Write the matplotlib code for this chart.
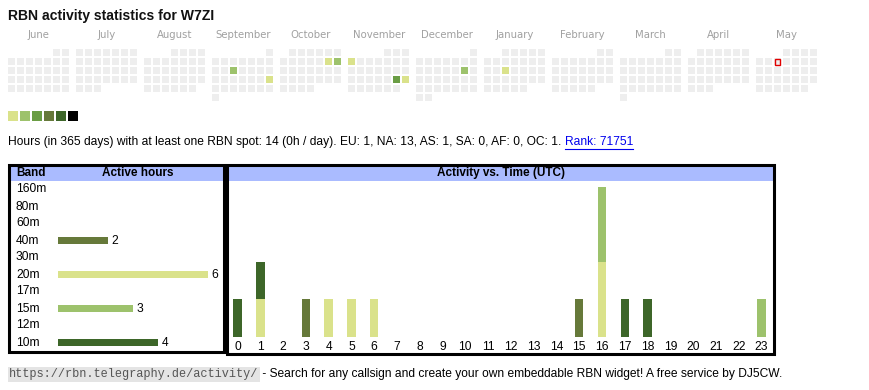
import datetime as dt
import matplotlib
matplotlib.use("Agg")
import matplotlib.pyplot as plt
from matplotlib.patches import Rectangle
from matplotlib.lines import Line2D

# ---------------- data ----------------
title = "RBN activity statistics for W7ZI"
months = ["June", "July", "August", "September", "October", "November",
          "December", "January", "February", "March", "April", "May"]
month_years = [2024, 2024, 2024, 2024, 2024, 2024, 2024, 2025, 2025, 2025, 2025, 2025]
month_nums = [6, 7, 8, 9, 10, 11, 12, 1, 2, 3, 4, 5]
active_days = ["2024-09-11", "2024-09-22", "2024-10-12", "2024-10-13", "2024-11-04",
               "2024-11-23", "2024-11-24", "2024-12-14", "2025-01-15"]
active_day_hours = [2, 1, 1, 2, 1, 3, 1, 2, 1]
today = "2025-05-07"
level_colors = ["#dae28b", "#9dc26c", "#6a9d44", "#66793a", "#3d6629", "#000000"]

summary = ("Hours (in 365 days) with at least one RBN spot: 14 (0h / day). "
           "EU: 1, NA: 13, AS: 1, SA: 0, AF: 0, OC: 1. ")
rank_text = "Rank: 71751"

bands = ["160m", "80m", "60m", "40m", "30m", "20m", "17m", "15m", "12m", "10m"]
band_hours = [0, 0, 0, 2, 0, 6, 0, 3, 0, 4]
band_colors = {"40m": "#66793a", "20m": "#dae28b", "15m": "#9dc26c", "10m": "#3d6629"}

hours = list(range(24))
hourly_40m = [0, 0, 0, 1, 0, 0, 0, 0, 0, 0, 0, 0, 0, 0, 0, 1, 0, 0, 0, 0, 0, 0, 0, 0]
hourly_20m = [0, 1, 0, 0, 1, 1, 1, 0, 0, 0, 0, 0, 0, 0, 0, 0, 2, 0, 0, 0, 0, 0, 0, 0]
hourly_15m = [0, 0, 0, 0, 0, 0, 0, 0, 0, 0, 0, 0, 0, 0, 0, 0, 2, 0, 0, 0, 0, 0, 0, 1]
hourly_10m = [1, 1, 0, 0, 0, 0, 0, 0, 0, 0, 0, 0, 0, 0, 0, 0, 0, 1, 1, 0, 0, 0, 0, 0]
hourly_series = [("40m", hourly_40m), ("20m", hourly_20m), ("15m", hourly_15m), ("10m", hourly_10m)]

footer_url = "https://rbn.telegraphy.de/activity/"
footer_text = " - Search for any callsign and create your own embeddable RBN widget! A free service by DJ5CW."

# ---------------- layout ----------------
W, H = 870, 390
fig = plt.figure(figsize=(W / 100, H / 100), dpi=100)
SANS = ["Liberation Sans", "DejaVu Sans"]
FS = 8.62

bg = fig.add_axes([0, 0, 1, 1])
bg.set_xlim(0, W)
bg.set_ylim(H, 0)
bg.axis("off")


def fa(x0, y0, x1, y1):
    """figure-fraction rect from pixel box"""
    return [x0 / W, 1 - y1 / H, (x1 - x0) / W, (y1 - y0) / H]


# title
bg.text(8, 16, title, fontsize=10.1, fontweight="bold", family=SANS,
        va="center", ha="left", color="#111111")

# calendar
MX0, MSTEP, CSTEP, CELL, RY0 = 8.3, 68.0, 9.0, 6.7, 49.3
today_d = dt.date.fromisoformat(today)
act = {dt.date.fromisoformat(d): h for d, h in zip(active_days, active_day_hours)}
for m, (name, yr, mn) in enumerate(zip(months, month_years, month_nums)):
    mx = MX0 + MSTEP * m
    bg.text(mx + 3 * CSTEP + CELL / 2, 35, name, fontsize=7.3, color="#a0a0a0",
            family="DejaVu Sans", ha="center", va="center")
    d = dt.date(yr, mn, 1)
    row = 0
    while d.month == mn:
        c = d.weekday()
        x = mx + CSTEP * c
        y = RY0 + CSTEP * row
        col = "#eeeeee"
        if d in act:
            col = level_colors[min(act[d], 6) - 1]
        bg.add_patch(Rectangle((x, y), CELL, CELL, facecolor=col, edgecolor="none"))
        if d == today_d:
            bg.add_patch(Rectangle((x + 0.5, y + 0.5), CELL - 1, CELL - 1,
                                   facecolor="none", edgecolor="#e00000", lw=1.0))
        if c == 6:
            row += 1
        d += dt.timedelta(days=1)

# legend squares
for i, c in enumerate(level_colors):
    bg.add_patch(Rectangle((8.3 + 12 * i, 110.8), 10, 10, facecolor=c, edgecolor="none"))

# summary line with link
r = fig.canvas.get_renderer()
t = bg.text(8, 142, summary, fontsize=FS, family=SANS, ha="left", va="center",
            color="#000000")
bb = t.get_window_extent(renderer=r)
t2 = bg.text(bb.x1, 142, rank_text, fontsize=FS, family=SANS, ha="left", va="center",
             color="#0000ee")
bb2 = t2.get_window_extent(renderer=r)
bg.add_line(Line2D([bb2.x0, bb2.x1], [148.5, 148.5], color="#0000ee", lw=0.8))

# table boxes
LB = (9, 164.5, 224, 351.5)
RB = (227, 164.5, 774, 353.5)
for (x0, y0, x1, y1) in (LB, RB):
    bg.add_patch(Rectangle((x0, y0), x1 - x0, 181 - y0, facecolor="#aabbff",
                           edgecolor="none", zorder=1))
    bg.add_patch(Rectangle((x0, y0), x1 - x0, y1 - y0, facecolor="none",
                           edgecolor="black", lw=2.2, zorder=5))
HFS = 8.5
bg.text(16, 173, "Band", fontsize=HFS, fontweight="bold", family=SANS, ha="left", va="center")
bg.text(138, 173, "Active hours", fontsize=HFS, fontweight="bold", family=SANS, ha="center", va="center")
bg.text(501, 173, "Activity vs. Time (UTC)", fontsize=HFS, fontweight="bold", family=SANS,
        ha="center", va="center")

# band bar chart
axl = fig.add_axes(fa(10, 181, 223, 350))
axl.set_facecolor("none")
PXU, PX0 = 25.0, 58.0
ROW0, ROWP = 189.5, 17.0
axl.set_xlim((10 - PX0) / PXU, (223 - PX0) / PXU)
axl.set_ylim((350 - ROW0) / ROWP, (181 - ROW0) / ROWP)
axl.axis("off")
ypos = list(range(len(bands)))
cols = [band_colors.get(b, "#cccccc") for b in bands]
axl.barh(ypos, band_hours, height=7 / ROWP, color=cols, left=0)
for i, (b, v) in enumerate(zip(bands, band_hours)):
    axl.text((16 - PX0) / PXU, i, b, fontsize=FS, family=SANS, ha="left", va="center")
    if v > 0:
        axl.text(v + 3.5 / PXU, i, str(v), fontsize=FS, family=SANS, ha="left", va="center")

# hourly stacked chart
axr = fig.add_axes(fa(228, 181, 773, 352))
axr.set_facecolor("none")
HX0, HP = 237.5, (761.5 - 237.5) / 23
BOT, UNIT = 336.5, 37.3
axr.set_xlim((228 - HX0) / HP, (773 - HX0) / HP)
axr.set_ylim(-(352 - BOT) / UNIT, (BOT - 181) / UNIT)
axr.axis("off")
bottom = [0] * 24
for band, vals in hourly_series:
    axr.bar(hours, vals, width=8.5 / HP, bottom=bottom, color=band_colors[band], linewidth=0)
    bottom = [a + b for a, b in zip(bottom, vals)]
for h in hours:
    axr.text(h, -(346.5 - BOT) / UNIT, str(h), fontsize=FS, family=SANS, ha="center", va="center")

# footer
tf = bg.text(9, 374.5, footer_url, fontsize=8.55, family=["Liberation Mono", "DejaVu Sans Mono"],
             color="#555555", ha="left", va="center",
             bbox=dict(facecolor="#e4e4e4", edgecolor="none", pad=1.0))
bbf = tf.get_window_extent(renderer=r)
bg.text(bbf.x1 + 1, 374.5, footer_text, fontsize=8.66, family=SANS, ha="left", va="center",
        color="#000000")

fig.savefig("out.png", dpi=100)
